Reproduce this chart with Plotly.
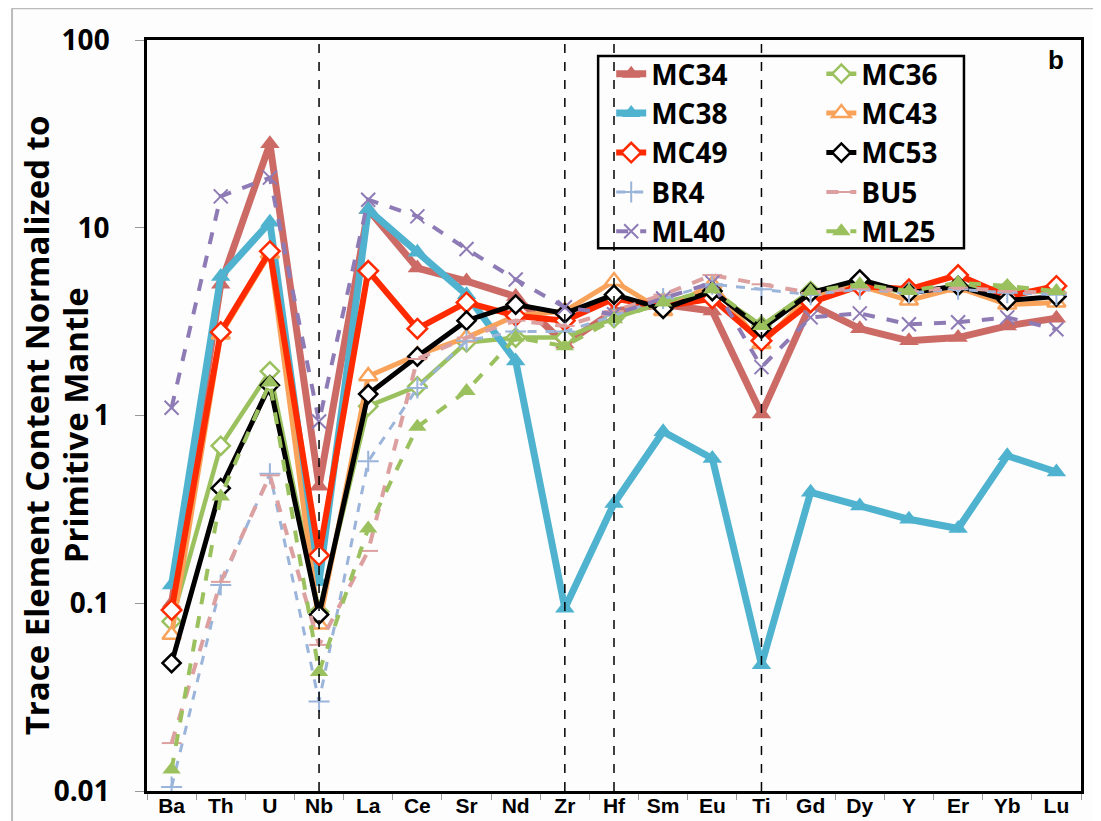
import plotly.graph_objects as go

# primitive-mantle normalised spider diagram, panel b

elements = ['Ba', 'Th', 'U', 'Nb', 'La', 'Ce', 'Sr', 'Nd', 'Zr', 'Hf',
            'Sm', 'Eu', 'Ti', 'Gd', 'Dy', 'Y', 'Er', 'Yb', 'Lu']

mc34 = [0.10, 5.0, 28, 0.42, 12.5, 6.1, 5.2, 4.3, 2.4, 3.6, 3.9, 3.6, 1.02, 3.9, 2.9, 2.5, 2.6, 3.0, 3.3]
mc36 = [0.08, 0.69, 1.72, 0.09, 1.12, 1.43, 2.45, 2.6, 2.6, 3.3, 4.0, 4.6, 3.0, 4.6, 5.0, 4.5, 4.9, 4.7, 4.5]
mc38 = [0.125, 5.5, 10.7, 0.13, 12.5, 7.4, 4.4, 1.95, 0.094, 0.34, 0.82, 0.59, 0.047, 0.39, 0.33, 0.28, 0.25, 0.61, 0.5]
mc43 = [0.068, 2.7, 7.3, 0.077, 1.62, 2.1, 2.6, 3.4, 3.6, 5.2, 3.6, 5.0, 2.4, 4.4, 4.9, 4.1, 4.8, 3.9, 4.0]
mc49 = [0.092, 2.78, 7.5, 0.18, 5.9, 2.9, 4.0, 3.4, 3.2, 4.2, 3.8, 4.2, 2.5, 4.0, 4.9, 4.7, 5.6, 4.3, 4.9]
mc53 = [0.048, 0.41, 1.45, 0.087, 1.3, 2.06, 3.2, 3.9, 3.5, 4.4, 3.7, 4.6, 2.9, 4.5, 5.3, 4.5, 4.9, 4.1, 4.3]
br4 = [0.0105, 0.125, 0.49, 0.030, 0.57, 1.4, 2.5, 2.8, 2.8, 3.4, 4.2, 5.0, 4.7, 4.4, 4.7, 4.5, 4.7, 4.5, 4.4]
bu5 = [0.018, 0.13, 0.48, 0.06, 0.19, 2.0, 2.6, 3.2, 3.0, 3.6, 4.4, 5.6, 5.0, 4.5, 4.8, 4.6, 4.8, 4.6, 4.5]
ml40 = [1.1, 14.7, 18.5, 0.93, 14.1, 11.5, 7.7, 5.3, 3.77, 3.46, 4.2, 5.1, 1.81, 3.33, 3.5, 3.06, 3.14, 3.33, 2.88]
ml25 = [0.013, 0.37, 1.5, 0.043, 0.25, 0.87, 1.35, 2.6, 2.34, 3.26, 4.0, 4.7, 3.0, 4.6, 5.0, 4.6, 5.1, 4.9, 4.6]

divider_elems = ['Nb', 'Zr', 'Hf', 'Ti']

ytick_vals = [0.01, 0.1, 1, 10, 100]
ytick_text = ['0.01', '0.1', '1', '10', '100']

# name, values, colour, line width, dash, symbol, marker fill, size, legend
series = [
    ('MC34', mc34, '#CC6B66', 7, 'solid', 'triangle-up', '#CC6B66', 17, 'legend'),
    ('MC36', mc36, '#9BC15F', 4.5, 'solid', 'diamond', 'white', 14, 'legend2'),
    ('MC38', mc38, '#4FB3CF', 7, 'solid', 'triangle-up', '#4FB3CF', 17, 'legend'),
    ('MC43', mc43, '#F8A25A', 5, 'solid', 'triangle-up', 'white', 16, 'legend2'),
    ('MC49', mc49, '#FF2A00', 6, 'solid', 'diamond', 'white', 15, 'legend'),
    ('MC53', mc53, '#000000', 5, 'solid', 'diamond', 'white', 14, 'legend2'),
    ('BR4', br4, '#9AB4DA', 3, 'dash', 'cross-thin', '#9AB4DA', 15, 'legend'),
    ('BU5', bu5, '#DDA0A0', 4, 'dash', 'line-ew', '#DDA0A0', 14, 'legend2'),
    ('ML40', ml40, '#8E7BB5', 4, 'dash', 'x-thin', '#8E7BB5', 14, 'legend'),
    ('ML25', ml25, '#9BC15F', 4, 'dash', 'triangle-up', '#9BC15F', 16, 'legend2'),
]

fig = go.Figure()

for name, vals, col, lw, dash, sym, fill, size, leg in series:
    thin = sym.endswith('thin') or sym == 'line-ew'
    fig.add_trace(go.Scatter(
        x=elements, y=vals, name=name, mode='lines+markers',
        line=dict(color=col, width=lw, dash=dash),
        marker=dict(symbol=sym, size=size, color=fill,
                    line=dict(color=col, width=2 if thin else (2.5 if fill == 'white' else 0))),
        legend=leg,
    ))

for el in divider_elems:
    fig.add_shape(type='line', x0=el, x1=el, xref='x', y0=0, y1=1, yref='paper',
                  line=dict(color='black', width=1.5, dash='dash'), layer='above')

# legend frame
fig.add_shape(type='rect', xref='paper', yref='paper',
              x0=0.483, x1=0.8747, y0=0.7228, y1=0.9788,
              line=dict(color='black', width=2.5))

# outer picture border (left and top only)
fig.add_shape(type='line', xref='paper', yref='paper', x0=-0.1445, x1=-0.1445, y0=-0.2, y1=1.0424,
              line=dict(color='#BBBBBB', width=2))
fig.add_shape(type='line', xref='paper', yref='paper', x0=-0.1445, x1=1.1, y0=1.0424, y1=1.0424,
              line=dict(color='#BBBBBB', width=2))

title_font = dict(family='Open Sans', size=33, color='black', weight='bold')
fig.add_annotation(text='Trace Element Content Normalized to',
                   xref='paper', yref='paper', x=-0.1188, y=0.487, showarrow=False,
                   textangle=-90, xanchor='center', yanchor='middle', font=title_font)
fig.add_annotation(text='Primitive Mantle',
                   xref='paper', yref='paper', x=-0.0771, y=0.487, showarrow=False,
                   textangle=-90, xanchor='center', yanchor='middle', font=title_font)
fig.add_annotation(text='b', xref='paper', yref='paper', x=0.973, y=0.9735, showarrow=False,
                   xanchor='center', yanchor='middle',
                   font=dict(family='Liberation Sans', size=26, color='black', weight='bold'))

legend_font = dict(family='Open Sans', size=28, color='black', weight='bold')

fig.update_layout(
    width=1101, height=821,
    margin=dict(l=139, r=28, t=32, b=35),
    paper_bgcolor='#FDFDFD', plot_bgcolor='#FDFDFD',
    legend=dict(x=0.497, y=0.988, xanchor='left', yanchor='top',
                bgcolor='rgba(0,0,0,0)', font=legend_font, traceorder='normal'),
    legend2=dict(x=0.722, y=0.988, xanchor='left', yanchor='top',
                 bgcolor='rgba(0,0,0,0)', font=legend_font, traceorder='normal'),
    xaxis=dict(type='category', tickson='boundaries', ticks='outside', ticklen=6,
               tickcolor='#999999', showgrid=False, showline=True, linecolor='black',
               linewidth=2.5, mirror=True, range=[-0.5, len(elements) - 0.5],
               ticklabelstandoff=-6,
               tickfont=dict(family='Liberation Sans', size=21, color='black', weight='bold')),
    yaxis=dict(type='log', range=[-2, 2], tickvals=ytick_vals, ticktext=ytick_text,
               ticks='outside', ticklen=9, tickcolor='#999999', showgrid=False,
               showline=True, linecolor='black', linewidth=2.5, mirror=True,
               ticklabelstandoff=20,
               tickfont=dict(family='Open Sans', size=28, color='black', weight='bold')),
)

fig.write_html('out.html')
